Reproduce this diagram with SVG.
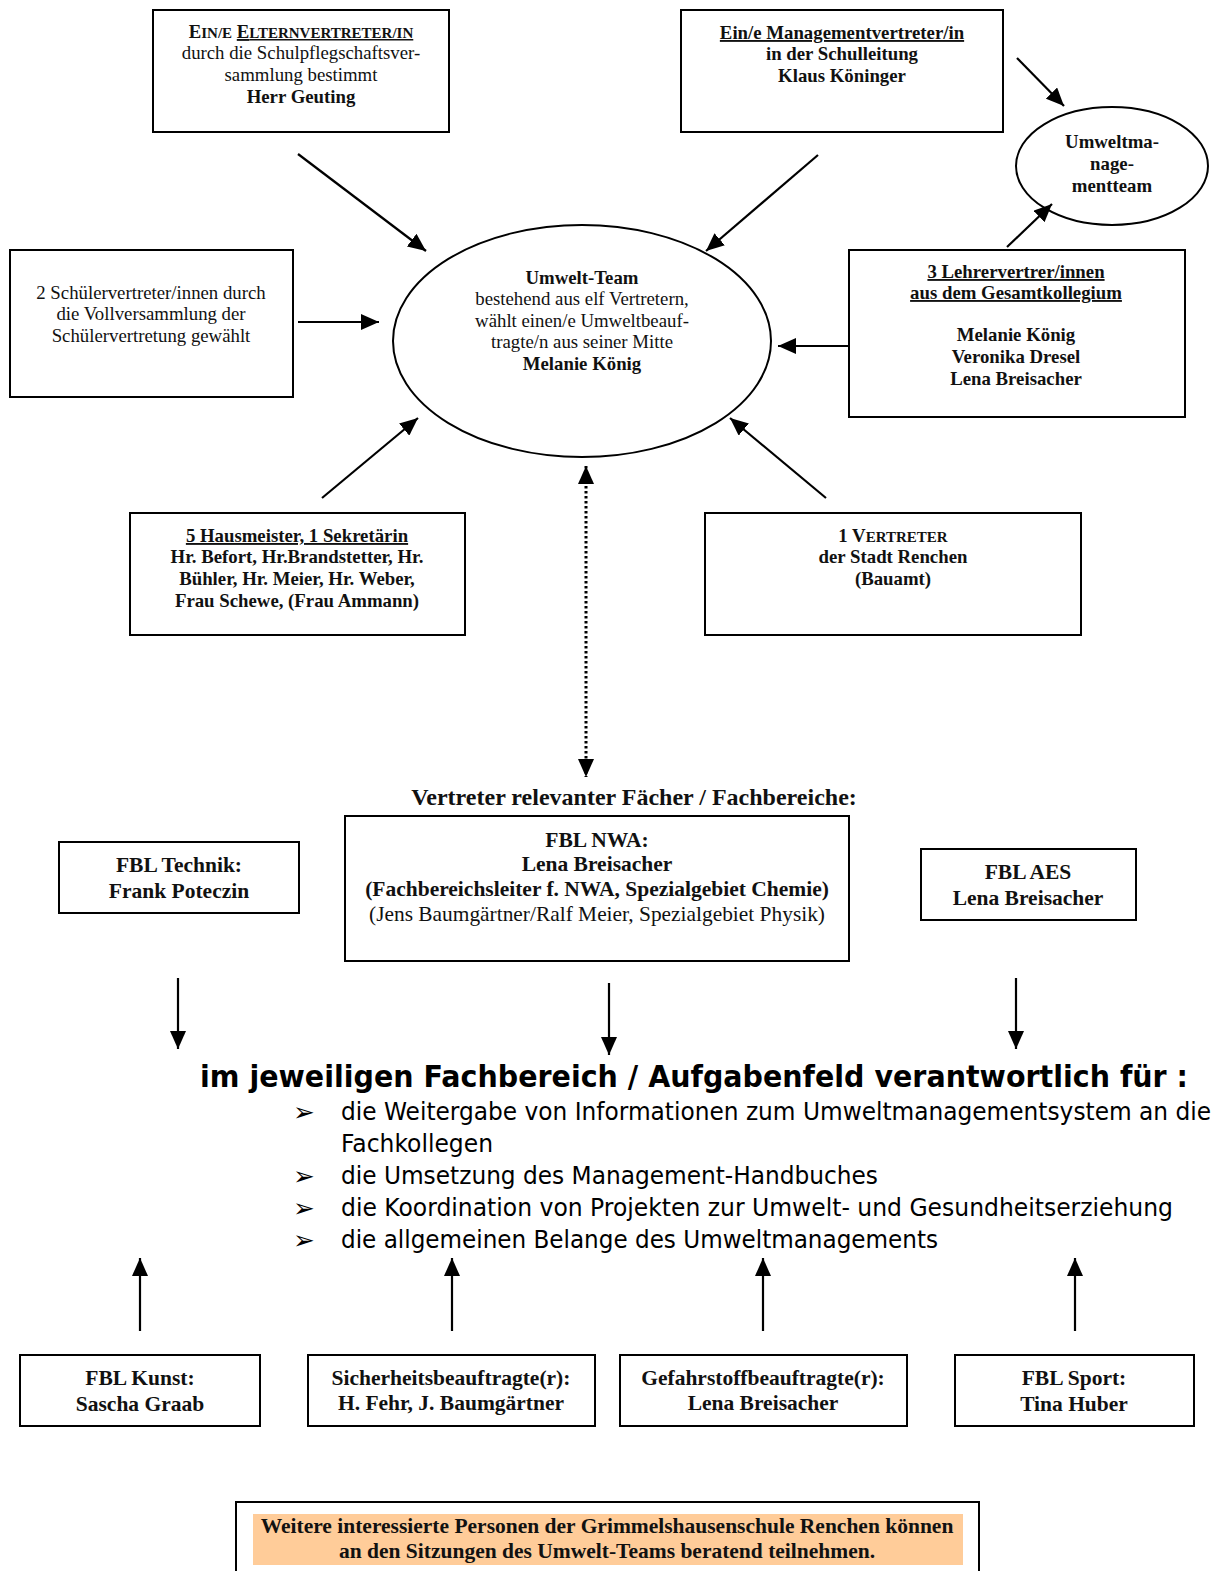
<svg xmlns="http://www.w3.org/2000/svg" width="1215" height="1571" viewBox="0 0 1215 1571">
<style>
.box{fill:#fff;stroke:#000;stroke-width:2}
.t{font-family:"Liberation Serif","Times New Roman",serif;font-size:18.8px;fill:#111;text-anchor:middle}
.b{font-weight:bold}
.u{text-decoration:underline}
.sc{font-size:15px}
.f{font-family:"Liberation Serif","Times New Roman",serif;font-size:21.5px;font-weight:bold;fill:#111;text-anchor:middle}
.v{font-family:"DejaVu Sans",Verdana,sans-serif;fill:#000}
.ln{stroke:#000;stroke-width:2.2;fill:none}
</style>
<defs>
<marker id="ah" markerUnits="userSpaceOnUse" markerWidth="20" markerHeight="16" refX="18" refY="8" orient="auto">
<path d="M0,0 L18,8 L0,16 z" fill="#000"/>
</marker>
<marker id="ahs" markerUnits="userSpaceOnUse" markerWidth="20" markerHeight="16" refX="18" refY="8" orient="auto-start-reverse">
<path d="M0,0 L18,8 L0,16 z" fill="#000"/>
</marker>
</defs>
<rect width="1215" height="1571" fill="#fff"/>

<g id="eltern">
<rect class="box" x="153" y="10" width="296" height="122"/>
<text class="t b" x="301" y="38">E<tspan class="sc">IN/E</tspan> <tspan class="u">E<tspan class="sc">LTERNVERTRETER/IN</tspan></tspan></text>
<text class="t" x="301" y="59">durch die Schulpflegschaftsver-</text>
<text class="t" x="301" y="81">sammlung bestimmt</text>
<text class="t b" x="301" y="103">Herr Geuting</text>
</g>

<g id="management">
<rect class="box" x="681" y="10" width="322" height="122"/>
<text class="t b u" x="842" y="39">Ein/e Managementvertreter/in</text>
<text class="t b" x="842" y="60">in der Schulleitung</text>
<text class="t b" x="842" y="82">Klaus Köninger</text>
</g>

<g id="umt">
<ellipse cx="1112" cy="166" rx="96" ry="59" fill="#fff" stroke="#000" stroke-width="2"/>
<text class="t b" x="1112" y="148">Umweltma-</text>
<text class="t b" x="1112" y="170">nage-</text>
<text class="t b" x="1112" y="192">mentteam</text>
</g>

<g id="umweltteam">
<ellipse cx="582" cy="341" rx="189" ry="116" fill="#fff" stroke="#000" stroke-width="2"/>
<text class="t b" x="582" y="284">Umwelt-Team</text>
<text class="t" x="582" y="305">bestehend aus elf Vertretern,</text>
<text class="t" x="582" y="327">wählt einen/e Umweltbeauf-</text>
<text class="t" x="582" y="348">tragte/n aus seiner Mitte</text>
<text class="t b" x="582" y="370">Melanie König</text>
</g>

<g id="schueler">
<rect class="box" x="10" y="250" width="283" height="147"/>
<text class="t" x="151" y="299">2 Schülervertreter/innen durch</text>
<text class="t" x="151" y="320">die Vollversammlung der</text>
<text class="t" x="151" y="342">Schülervertretung gewählt</text>
</g>

<g id="lehrer">
<rect class="box" x="849" y="250" width="336" height="167"/>
<text class="t b u" x="1016" y="278">3 Lehrervertrer/innen</text>
<text class="t b u" x="1016" y="299">aus dem Gesamtkollegium</text>
<text class="t b" x="1016" y="341">Melanie König</text>
<text class="t b" x="1016" y="363">Veronika Dresel</text>
<text class="t b" x="1016" y="385">Lena Breisacher</text>
</g>

<g id="hausmeister">
<rect class="box" x="130" y="513" width="335" height="122"/>
<text class="t b u" x="297" y="542">5 Hausmeister, 1 Sekretärin</text>
<text class="t b" x="297" y="563">Hr. Befort, Hr.Brandstetter, Hr.</text>
<text class="t b" x="297" y="585">Bühler,  Hr. Meier, Hr. Weber,</text>
<text class="t b" x="297" y="607">Frau Schewe, (Frau Ammann)</text>
</g>

<g id="stadt">
<rect class="box" x="705" y="513" width="376" height="122"/>
<text class="t b" x="893" y="542">1 V<tspan class="sc">ERTRETER</tspan></text>
<text class="t b" x="893" y="563">der Stadt Renchen</text>
<text class="t b" x="893" y="585">(Bauamt)</text>
</g>

<g id="faecher-titel">
<text class="f" x="634" y="805" style="font-size:24px">Vertreter relevanter Fächer / Fachbereiche:</text>
</g>

<g id="technik">
<rect class="box" x="59" y="842" width="240" height="71"/>
<text class="f" x="179" y="872">FBL Technik:</text>
<text class="f" x="179" y="898">Frank Poteczin</text>
</g>

<g id="nwa">
<rect class="box" x="345" y="816" width="504" height="145"/>
<text class="f" x="597" y="847">FBL NWA:</text>
<text class="f" x="597" y="871">Lena Breisacher</text>
<text class="f" x="597" y="896">(Fachbereichsleiter f. NWA, Spezialgebiet Chemie)</text>
<text class="f" x="597" y="921" style="font-weight:normal;font-size:21.4px">(Jens Baumgärtner/Ralf Meier, Spezialgebiet Physik)</text>
</g>

<g id="aes">
<rect class="box" x="921" y="849" width="215" height="71"/>
<text class="f" x="1028" y="879">FBL AES</text>
<text class="f" x="1028" y="905">Lena Breisacher</text>
</g>

<g id="aufgaben">
<text class="v" transform="translate(200,1087) scale(1,1.2)" x="0" y="0" font-size="25" font-weight="bold" textLength="988" lengthAdjust="spacingAndGlyphs">im jeweiligen Fachbereich / Aufgabenfeld verantwortlich für :</text>
<text class="v" x="293" y="1121" font-size="26">➢</text>
<text class="v" transform="translate(341,1120) scale(1,1.1)" x="0" y="0" font-size="22" textLength="870" lengthAdjust="spacingAndGlyphs">die Weitergabe von Informationen zum Umweltmanagementsystem an die</text>
<text class="v" transform="translate(341,1152) scale(1,1.1)" x="0" y="0" font-size="22" textLength="152" lengthAdjust="spacingAndGlyphs">Fachkollegen</text>
<text class="v" x="293" y="1185" font-size="26">➢</text>
<text class="v" transform="translate(341,1184) scale(1,1.1)" x="0" y="0" font-size="22" textLength="537" lengthAdjust="spacingAndGlyphs">die Umsetzung des Management-Handbuches</text>
<text class="v" x="293" y="1217" font-size="26">➢</text>
<text class="v" transform="translate(341,1216) scale(1,1.1)" x="0" y="0" font-size="22" textLength="832" lengthAdjust="spacingAndGlyphs">die Koordination von Projekten zur Umwelt- und Gesundheitserziehung</text>
<text class="v" x="293" y="1249" font-size="26">➢</text>
<text class="v" transform="translate(341,1248) scale(1,1.1)" x="0" y="0" font-size="22" textLength="597" lengthAdjust="spacingAndGlyphs">die allgemeinen Belange des Umweltmanagements</text>
</g>

<g id="kunst">
<rect class="box" x="20" y="1355" width="240" height="71"/>
<text class="f" x="140" y="1385">FBL Kunst:</text>
<text class="f" x="140" y="1411">Sascha Graab</text>
</g>

<g id="sicherheit">
<rect class="box" x="308" y="1355" width="287" height="71"/>
<text class="f" x="451" y="1385">Sicherheitsbeauftragte(r):</text>
<text class="f" x="451" y="1410">H. Fehr, J. Baumgärtner</text>
</g>

<g id="gefahrstoff">
<rect class="box" x="620" y="1355" width="287" height="71"/>
<text class="f" x="763" y="1385">Gefahrstoffbeauftragte(r):</text>
<text class="f" x="763" y="1410">Lena Breisacher</text>
</g>

<g id="sport">
<rect class="box" x="955" y="1355" width="239" height="71"/>
<text class="f" x="1074" y="1385">FBL Sport:</text>
<text class="f" x="1074" y="1411">Tina Huber</text>
</g>

<g id="hinweis">
<rect class="box" x="236" y="1502" width="743" height="80"/>
<rect x="253" y="1514" width="710" height="51" fill="#FFCC99"/>
<text class="f" x="607" y="1533">Weitere interessierte Personen der Grimmelshausenschule Renchen können</text>
<text class="f" x="607" y="1558">an den Sitzungen des Umwelt-Teams beratend teilnehmen.</text>
</g>

<g id="connectors">
<line class="ln" x1="298" y1="154" x2="426" y2="251" marker-end="url(#ah)"/>
<line class="ln" x1="818" y1="155" x2="706" y2="251" marker-end="url(#ah)"/>
<line class="ln" x1="1017" y1="58" x2="1064" y2="106" marker-end="url(#ah)"/>
<line class="ln" x1="1007" y1="247" x2="1052" y2="204" marker-end="url(#ah)"/>
<line class="ln" x1="298" y1="322" x2="379" y2="322" marker-end="url(#ah)"/>
<line class="ln" x1="849" y1="346" x2="778" y2="346" marker-end="url(#ah)"/>
<line class="ln" x1="322" y1="498" x2="418" y2="418" marker-end="url(#ah)"/>
<line class="ln" x1="826" y1="498" x2="730" y2="418" marker-end="url(#ah)"/>
<line x1="586" y1="466" x2="586" y2="777" stroke="#000" stroke-width="3" stroke-dasharray="2.5,2.5" marker-start="url(#ahs)" marker-end="url(#ahs)"/>
<line class="ln" x1="178" y1="978" x2="178" y2="1049" marker-end="url(#ah)"/>
<line class="ln" x1="609" y1="983" x2="609" y2="1055" marker-end="url(#ah)"/>
<line class="ln" x1="1016" y1="978" x2="1016" y2="1049" marker-end="url(#ah)"/>
<line class="ln" x1="140" y1="1331" x2="140" y2="1258" marker-end="url(#ah)"/>
<line class="ln" x1="452" y1="1331" x2="452" y2="1258" marker-end="url(#ah)"/>
<line class="ln" x1="763" y1="1331" x2="763" y2="1258" marker-end="url(#ah)"/>
<line class="ln" x1="1075" y1="1331" x2="1075" y2="1258" marker-end="url(#ah)"/>
</g>
</svg>
